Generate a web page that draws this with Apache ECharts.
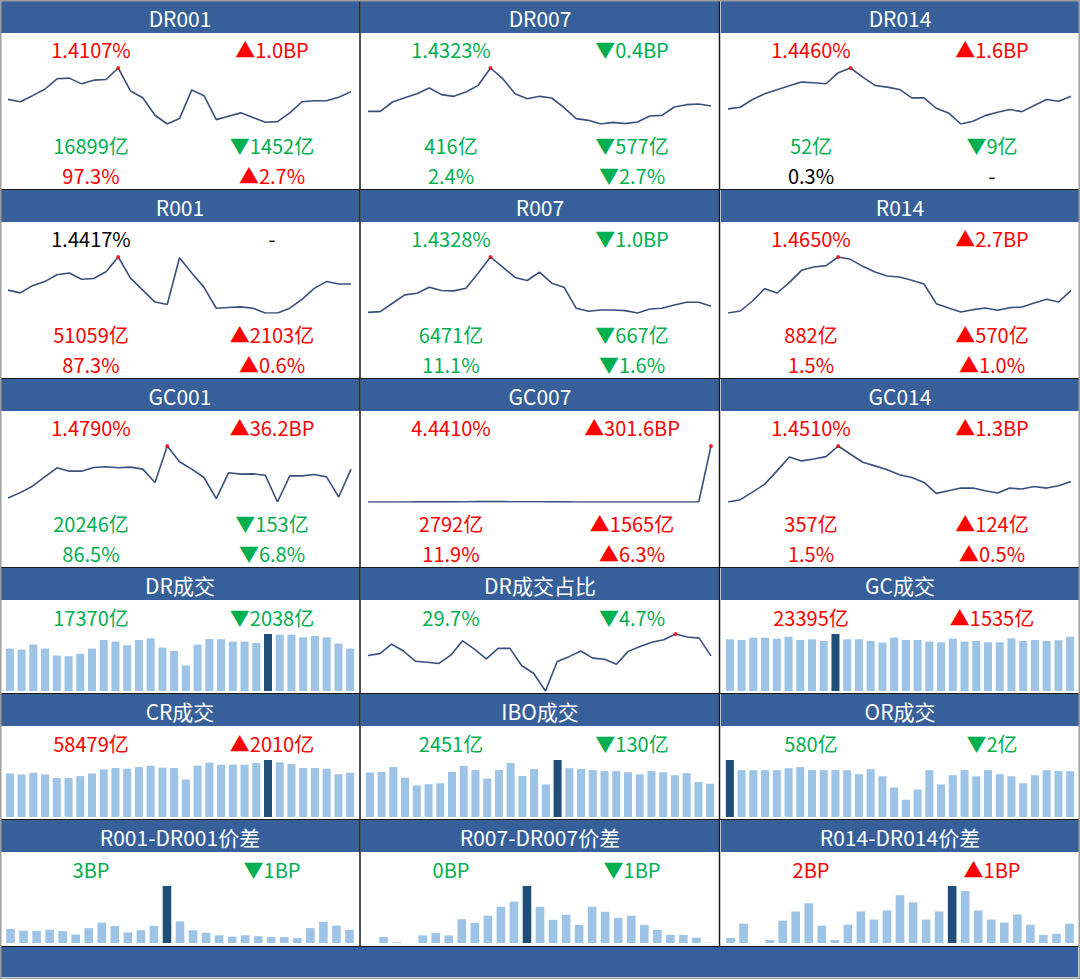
<!DOCTYPE html>
<html>
<head>
<meta charset="utf-8">
<title>资金面看板</title>
<script src="https://cdn.jsdelivr.net/npm/echarts@6/dist/echarts.min.js"></script>
<style>
  html, body { margin: 0; padding: 0; background: #fff; }
  #board { width: 1080px; height: 979px; }
</style>
</head>
<body>
<div id="board"></div>
<script>
// ---------------------------------------------------------------
// Data (line values are relative levels)
// ---------------------------------------------------------------
const titles = ['DR001', 'DR007', 'DR014', 'R001', 'R007', 'R014', 'GC001', 'GC007', 'GC014',
  'DR成交', 'DR成交占比', 'GC成交', 'CR成交', 'IBO成交', 'OR成交',
  'R001-DR001价差', 'R007-DR007价差', 'R014-DR014价差'];

// rate panels: three text lines each
const rateLabels = ['1.4107%', '1.4323%', '1.4460%', '1.4417%', '1.4328%', '1.4650%', '1.4790%', '4.4410%', '1.4510%'];
const rateChanges = ['▲1.0BP', '▼0.4BP', '▲1.6BP', '-', '▼1.0BP', '▲2.7BP', '▲36.2BP', '▲301.6BP', '▲1.3BP'];
const volLabels = ['16899亿', '416亿', '52亿', '51059亿', '6471亿', '882亿', '20246亿', '2792亿', '357亿'];
const volChanges = ['▼1452亿', '▼577亿', '▼9亿', '▲2103亿', '▼667亿', '▲570亿', '▼153亿', '▲1565亿', '▲124亿'];
const shareLabels = ['97.3%', '2.4%', '0.3%', '87.3%', '11.1%', '1.5%', '86.5%', '11.9%', '1.5%'];
const shareChanges = ['▲2.7%', '▼2.7%', '-', '▲0.6%', '▼1.6%', '▲1.0%', '▼6.8%', '▲6.3%', '▲0.5%'];

// lower panels: one text line each
const mainLabels = ['17370亿', '29.7%', '23395亿', '58479亿', '2451亿', '580亿', '3BP', '0BP', '2BP'];
const mainChanges = ['▼2038亿', '▼4.7%', '▲1535亿', '▲2010亿', '▼130亿', '▼2亿', '▼1BP', '▼1BP', '▲1BP'];

const dr001 = [102, 95, 113, 132, 163, 165, 148, 159, 161, 195, 127, 107, 55, 29, 45, 130, 113, 42, 52, 62, 48, 34, 36, 62, 95, 98, 98, 108, 125];
const dr007 = [67, 67, 95, 108, 120, 137, 117, 112, 125, 145, 197, 165, 120, 105, 112, 107, 78, 45, 40, 29, 34, 30, 35, 53, 55, 80, 87, 89, 83];
const dr014 = [75, 80, 103, 120, 132, 144, 155, 153, 150, 183, 197, 170, 145, 140, 133, 108, 108, 77, 63, 30, 38, 55, 65, 73, 67, 85, 103, 98, 113];
const r001 = [100, 92, 113, 125, 145, 150, 132, 134, 154, 197, 135, 100, 65, 58, 195, 150, 108, 47, 49, 51, 47, 33, 33, 47, 73, 105, 125, 118, 118];
const r007 = [35, 37, 62, 87, 92, 110, 100, 99, 107, 152, 200, 170, 139, 130, 155, 122, 110, 47, 38, 42, 42, 40, 33, 45, 47, 57, 65, 65, 53];
const r014 = [32, 38, 68, 105, 92, 123, 160, 170, 174, 200, 193, 172, 155, 143, 140, 130, 119, 60, 47, 35, 42, 47, 40, 48, 50, 62, 73, 65, 100];
const gc001 = [42, 58, 77, 105, 132, 122, 122, 133, 135, 132, 134, 128, 88, 197, 150, 128, 103, 40, 117, 113, 114, 110, 30, 108, 108, 112, 105, 45, 128];
const gc007 = [1.425, 1.425, 1.425, 1.429, 1.431, 1.432, 1.432, 1.432, 1.436, 1.443, 1.443, 1.443, 1.440, 1.440, 1.436, 1.434, 1.431, 1.425, 1.427, 1.429, 1.429, 1.427, 1.425, 1.427, 1.429, 1.429, 1.429, 1.425, 4.441];
const gc014 = [28, 35, 58, 82, 122, 164, 152, 158, 165, 197, 172, 148, 137, 125, 110, 102, 87, 54, 62, 70, 70, 62, 55, 70, 67, 75, 70, 77, 90];

const drVol = [17370, 16960, 19000, 17370, 14520, 14250, 15200, 17370, 20900, 20220, 18730, 20900, 21580, 17780, 16420, 10450, 19000, 21310, 21170, 20220, 20220, 19680, 23340, 23070, 23070, 21980, 22530, 21980, 19408, 17370];
const drShare = [29.8, 30.3, 32.8, 31.0, 28.3, 28.0, 27.7, 29.9, 33.7, 31.5, 28.9, 31.7, 31.7, 27.1, 25.1, 20.4, 28.2, 29.5, 31.0, 29.1, 28.8, 27.5, 30.9, 32.2, 33.3, 34.0, 35.5, 34.7, 34.4, 29.7];
const gcVol = [22250, 21970, 22970, 22970, 22540, 23390, 21970, 22250, 21540, 24540, 22250, 22250, 21540, 20830, 22970, 21970, 21970, 21260, 20970, 22540, 21260, 21540, 20970, 20970, 22680, 21540, 21970, 21540, 21860, 23395];
const crVol = [57590, 56260, 58480, 56260, 51390, 51390, 54050, 57590, 62910, 64680, 63790, 66010, 67780, 65120, 64680, 49620, 67780, 71770, 69110, 69110, 69110, 71320, 75310, 72210, 70000, 64680, 64680, 63790, 56469, 58479];
const iboVol = [3280, 3320, 3680, 2900, 2330, 2420, 2480, 3320, 3770, 3450, 2830, 3450, 3980, 3020, 3530, 2400, 4200, 3600, 3530, 3450, 3380, 3380, 3300, 3150, 3380, 3300, 3080, 3230, 2581, 2451];
const orVol = [722, 593, 593, 593, 593, 619, 632, 593, 593, 593, 593, 542, 606, 516, 374, 219, 348, 593, 413, 529, 593, 516, 593, 542, 516, 426, 529, 593, 582, 580];
const spreadR001 = [3.3, 2.9, 2.8, 3.1, 2.8, 2.0, 3.5, 4.8, 4.0, 2.5, 3.0, 4.0, 13.4, 5.1, 3.0, 2.4, 1.8, 1.5, 1.8, 1.6, 1.4, 1.4, 1.2, 3.5, 5.0, 4.1, 3.1];
const spreadR007 = [0, 1.2, 0.15, 0, 1.5, 2.0, 1.5, 4.7, 4.0, 5.4, 7.2, 8.2, 11.3, 7.2, 4.6, 5.6, 3.6, 7.2, 6.2, 5.0, 5.4, 3.6, 2.6, 1.6, 1.6, 1.05, 0.05];
const spreadR014 = [0.5, 1.9, 0, 0.3, 2.2, 3.1, 3.9, 1.7, 0.3, 1.8, 3.1, 2.3, 3.2, 4.7, 4.0, 2.3, 3.1, 5.6, 5.1, 3.2, 2.3, 2.0, 2.8, 1.8, 0.8, 0.9, 1.9];

const lineSeries = [dr001, dr007, dr014, r001, r007, r014, gc001, gc007, gc014];
const lowerSeries = [drVol, drShare, gcVol, crVol, iboVol, orVol, spreadR001, spreadR007, spreadR014];

// ---------------------------------------------------------------
// Layout & styles
// ---------------------------------------------------------------
const FONT = "'Noto Sans CJK SC', 'Noto Sans', sans-serif";
const RED = '#ff0000', GREEN = '#00b050', BLACK = '#000000';
const HEAD = '#37609a', LINE = '#3b4f7c', BAR = '#9dc3e6', BAR_MAX = '#1f4e79';

const colX = [0, 360, 720];
const colW = [359, 359, 358];
const rowTop = [1, 190, 379, 568, 694, 820];
const HEAD_H = 32;

function tone(change) {
    if (change[0] === '▲') return RED;
    if (change[0] === '▼') return GREEN;
    return BLACK;
}

function label(x, y, text, color, size) {
    return {
        type: 'text', x: x, y: y, z: 10,
        style: {
            text: text, fill: color, fontSize: size, fontFamily: FONT,
            align: 'center', verticalAlign: 'middle'
        }
    };
}

function maxIndex(arr) {
    let mi = 0;
    arr.forEach(function (v, i) { if (v > arr[mi]) mi = i; });
    return mi;
}

const graphic = [];
const grid = [], xAxis = [], yAxis = [], series = [];

graphic.push({ type: 'rect', z: -5, shape: { x: 0, y: 0, width: 1080, height: 979 }, style: { fill: '#ffffff' } });

function addLine(data, left, top, height) {
    const gi = grid.length;
    grid.push({ left: left, top: top, width: 343, height: height });
    xAxis.push({ type: 'category', gridIndex: gi, show: false, boundaryGap: false, data: data.map(function (v, i) { return i; }) });
    yAxis.push({ type: 'value', gridIndex: gi, show: false, min: 'dataMin', max: 'dataMax' });
    series.push({
        type: 'line', xAxisIndex: gi, yAxisIndex: gi, data: data, symbol: 'none',
        lineStyle: { color: LINE, width: 1.6 }, silent: true
    });
    const mi = maxIndex(data);
    series.push({
        type: 'scatter', xAxisIndex: gi, yAxisIndex: gi, data: [[mi, data[mi]]],
        symbolSize: 4, itemStyle: { color: RED }, z: 5, silent: true
    });
}

function addBars(data, left, top, height) {
    const gi = grid.length;
    const mi = maxIndex(data);
    grid.push({ left: left, top: top, width: 352, height: height });
    xAxis.push({ type: 'category', gridIndex: gi, show: false, boundaryGap: true, data: data.map(function (v, i) { return i; }) });
    yAxis.push({ type: 'value', gridIndex: gi, show: false, min: 0, max: 'dataMax' });
    series.push({
        type: 'bar', xAxisIndex: gi, yAxisIndex: gi, silent: true,
        barWidth: data.length > 28 ? 8 : 8.6,
        itemStyle: { color: BAR },
        data: data.map(function (v, i) { return i === mi ? { value: v, itemStyle: { color: BAR_MAX } } : v; })
    });
}

titles.forEach(function (title, p) {
    const row = Math.floor(p / 3), col = p % 3;
    const x0 = colX[col], top = rowTop[row];

    // header
    graphic.push({ type: 'rect', shape: { x: x0 + 1, y: top, width: colW[col], height: HEAD_H }, style: { fill: HEAD } });
    graphic.push(label(x0 + 180, top + 17, title, '#ffffff', 21));

    if (p < 9) {
        graphic.push(label(x0 + 91, top + 48.5, rateLabels[p], tone(rateChanges[p]), 20));
        graphic.push(label(x0 + 272, top + 48.5, rateChanges[p], tone(rateChanges[p]), 20));
        graphic.push(label(x0 + 91, top + 144, volLabels[p], tone(volChanges[p]), 20));
        graphic.push(label(x0 + 272, top + 144, volChanges[p], tone(volChanges[p]), 20));
        graphic.push(label(x0 + 91, top + 174, shareLabels[p], tone(shareChanges[p]), 20));
        graphic.push(label(x0 + 272, top + 174, shareChanges[p], tone(shareChanges[p]), 20));
        addLine(lineSeries[p], x0 + 8, top + 67, 56);
    } else {
        const k = p - 9;
        graphic.push(label(x0 + 91, top + 49, mainLabels[k], tone(mainChanges[k]), 20));
        graphic.push(label(x0 + 272, top + 49, mainChanges[k], tone(mainChanges[k]), 20));
        if (p === 10) {
            addLine(lowerSeries[k], x0 + 8, top + 66, 57);
        } else {
            addBars(lowerSeries[k], x0 + 4, top + 66, 57);
        }
    }
});

// footer bar
graphic.push({ type: 'rect', shape: { x: 1, y: 947, width: 1077, height: 30 }, style: { fill: HEAD } });

// cell borders
[360, 719.5].forEach(function (x) {
    graphic.push({ type: 'line', z: 8, shape: { x1: x, y1: 0, x2: x, y2: 947 }, style: { stroke: '#1a1a1a', lineWidth: 1.5 } });
});
rowTop.slice(1).concat([947]).forEach(function (y) {
    graphic.push({ type: 'line', z: 8, shape: { x1: 0, y1: y - 0.5, x2: 1080, y2: y - 0.5 }, style: { stroke: '#1a1a1a', lineWidth: 1 } });
});
graphic.push({ type: 'rect', z: 9, shape: { x: 0.5, y: 0.5, width: 1079, height: 978 }, style: { fill: 'none', stroke: '#9e9e9e', lineWidth: 2 } });

const chart = echarts.init(document.getElementById('board'), null, { renderer: 'svg' });
chart.setOption({
    animation: false,
    graphic: graphic,
    grid: grid,
    xAxis: xAxis,
    yAxis: yAxis,
    series: series
});
</script>
</body>
</html>
